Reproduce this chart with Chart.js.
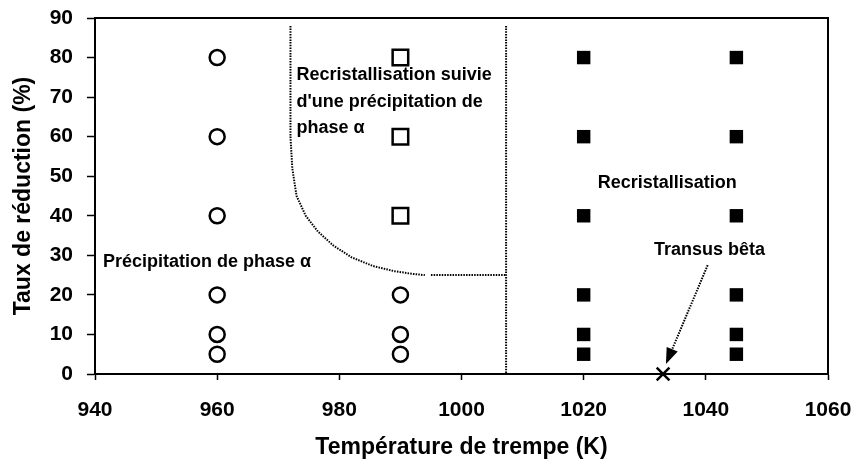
<!DOCTYPE html>
<html>
<head>
<meta charset="utf-8">
<script src="https://cdn.jsdelivr.net/npm/chart.js@4/dist/chart.umd.min.js"></script>
<style>
  html, body { margin: 0; padding: 0; background: #fff; }
  #wrap { width: 858px; height: 470px; }
</style>
</head>
<body>
<div id="wrap"><canvas id="canvas" width="858" height="470"></canvas></div>
<script>
// open circles: précipitation de phase alpha
const circleTemps = [960, 960, 960, 960, 960, 960, 990, 990, 990]
const circleRates = [80, 60, 40, 20, 10, 5, 20, 10, 5]

// open squares: recristallisation + précipitation
const openTemps = [990, 990, 990]
const openRates = [80, 60, 40]

// filled squares: recristallisation
const filledTemps = [1020, 1020, 1020, 1020, 1020, 1020, 1045, 1045, 1045, 1045, 1045, 1045]
const filledRates = [80, 60, 40, 20, 10, 5, 80, 60, 40, 20, 10, 5]

// transus bêta
const transusTemps = [1033]
const transusRates = [0]

// dotted domain boundaries
const curveTemps = [972, 972, 972.3, 973, 974.5, 976.5, 979, 982, 985.5, 989, 992, 994]
const curveRates = [88, 60, 52, 45, 40, 36, 32.5, 29.5, 27.3, 26, 25.3, 25]
const shelfTemps = [995, 1007.3]
const shelfRates = [25, 25]
const wallTemps = [1007.3, 1007.3]
const wallRates = [88, 0]

// arrow to the transus point
const arrowTemps = [1040.3, 1033.6]
const arrowRates = [27.5, 3]

const xTicks = [940, 960, 980, 1000, 1020, 1040, 1060]
const yTicks = [0, 10, 20, 30, 40, 50, 60, 70, 80, 90]

const notes = [
  { lines: ["Recristallisation suivie", "d'une précipitation de", "phase α"], x: 973, y: 75.5 },
  { lines: ["Recristallisation"], x: 1022.3, y: 48.2 },
  { lines: ["Transus bêta"], x: 1031.5, y: 31.3 },
  { lines: ["Précipitation de phase α"], x: 941.3, y: 28.3 }
]

const pts = (xs, ys) => xs.map((x, i) => ({ x: x, y: ys[i] }))
const FONT = "'Liberation Sans', Arial, sans-serif"

const dotted = (xs, ys) => ({
  type: "line",
  data: pts(xs, ys),
  borderColor: "#000",
  borderWidth: 2,
  borderDash: [1.5, 1.2],
  pointRadius: 0,
  tension: 0,
  fill: false
})

const frame = {
  id: "frame",
  beforeDatasetsDraw(chart) {
    const { ctx, chartArea: a } = chart
    ctx.save()
    ctx.strokeStyle = "#000"
    ctx.lineWidth = 2
    ctx.strokeRect(a.left, a.top, a.right - a.left, a.bottom - a.top)
    ctx.restore()
  },
  afterDatasetsDraw(chart) {
    const { ctx, scales } = chart
    const sx = scales.x, sy = scales.y
    ctx.save()
    ctx.fillStyle = "#000"
    ctx.font = "bold 18px " + FONT
    ctx.textBaseline = "middle"
    for (const n of notes) {
      const px = sx.getPixelForValue(n.x)
      let py = sy.getPixelForValue(n.y)
      for (const line of n.lines) {
        ctx.fillText(line, px, py)
        py += 26.5
      }
    }
    // arrow head
    const x0 = sx.getPixelForValue(arrowTemps[0]), y0 = sy.getPixelForValue(arrowRates[0])
    const x1 = sx.getPixelForValue(arrowTemps[1]), y1 = sy.getPixelForValue(arrowRates[1])
    const ang = Math.atan2(y1 - y0, x1 - x0)
    const len = 14, half = 6
    ctx.beginPath()
    ctx.moveTo(x1 + Math.cos(ang) * 2, y1 + Math.sin(ang) * 2)
    ctx.lineTo(x1 - Math.cos(ang) * len - Math.sin(ang) * half, y1 - Math.sin(ang) * len + Math.cos(ang) * half)
    ctx.lineTo(x1 - Math.cos(ang) * len + Math.sin(ang) * half, y1 - Math.sin(ang) * len - Math.cos(ang) * half)
    ctx.closePath()
    ctx.fill()
    ctx.restore()
  }
}

const tickFont = { family: FONT, size: 21, weight: "bold" }
const titleFont = { family: FONT, size: 23, weight: "bold" }

const chart = new Chart(document.getElementById("canvas"), {
  type: "scatter",
  data: {
    datasets: [
      dotted(curveTemps, curveRates),
      dotted(shelfTemps, shelfRates),
      dotted(wallTemps, wallRates),
      dotted(arrowTemps, arrowRates),
      {
        data: pts(circleTemps, circleRates),
        pointStyle: "circle",
        pointRadius: 7.5,
        pointBorderWidth: 2.5,
        pointBorderColor: "#000",
        pointBackgroundColor: "#fff"
      },
      {
        data: pts(openTemps, openRates),
        pointStyle: "rect",
        pointRadius: 11,
        pointBorderWidth: 2.5,
        pointBorderColor: "#000",
        pointBackgroundColor: "#fff"
      },
      {
        data: pts(filledTemps, filledRates),
        pointStyle: "rect",
        pointRadius: 9.5,
        pointBorderWidth: 0,
        pointBorderColor: "#000",
        pointBackgroundColor: "#000"
      },
      {
        data: pts(transusTemps, transusRates),
        clip: false,
        pointStyle: "crossRot",
        pointRadius: 9,
        pointBorderWidth: 2.5,
        pointBorderColor: "#000",
        pointBackgroundColor: "#000"
      }
    ]
  },
  options: {
    responsive: false,
    animation: false,
    layout: { padding: { left: 0, right: 30, top: 18, bottom: 0 } },
    plugins: {
      legend: { display: false },
      tooltip: { enabled: false }
    },
    scales: {
      x: {
        type: "linear",
        min: xTicks[0],
        max: xTicks[xTicks.length - 1],
        afterBuildTicks: s => { s.ticks = xTicks.map(v => ({ value: v })) },
        afterFit: s => {
          s.height = 96
          s.paddingLeft = 0
          s.paddingRight = 0
        },
        ticks: { color: "#000", font: tickFont, padding: 18, callback: v => String(v) },
        grid: { drawOnChartArea: false, drawTicks: true, tickLength: 6, tickColor: "#000", tickWidth: 1.5 },
        border: { display: true, color: "#000", width: 2 },
        title: {
          display: true,
          text: "Température de trempe (K)",
          color: "#000",
          font: titleFont,
          padding: { top: 10, bottom: 9 }
        }
      },
      y: {
        type: "linear",
        min: yTicks[0],
        max: yTicks[yTicks.length - 1],
        afterBuildTicks: s => { s.ticks = yTicks.map(v => ({ value: v })) },
        afterFit: s => {
          s.width = 95
          s.paddingTop = 0
          s.paddingBottom = 0
        },
        ticks: { color: "#000", font: tickFont, padding: 14, callback: v => String(v) },
        grid: { drawOnChartArea: false, drawTicks: true, tickLength: 8, tickColor: "#000", tickWidth: 1.5 },
        border: { display: true, color: "#000", width: 2 },
        title: {
          display: true,
          text: "Taux de réduction (%)",
          color: "#000",
          font: titleFont,
          padding: { top: 10, bottom: 0 }
        }
      }
    }
  },
  plugins: [frame]
})
</script>
</body>
</html>
